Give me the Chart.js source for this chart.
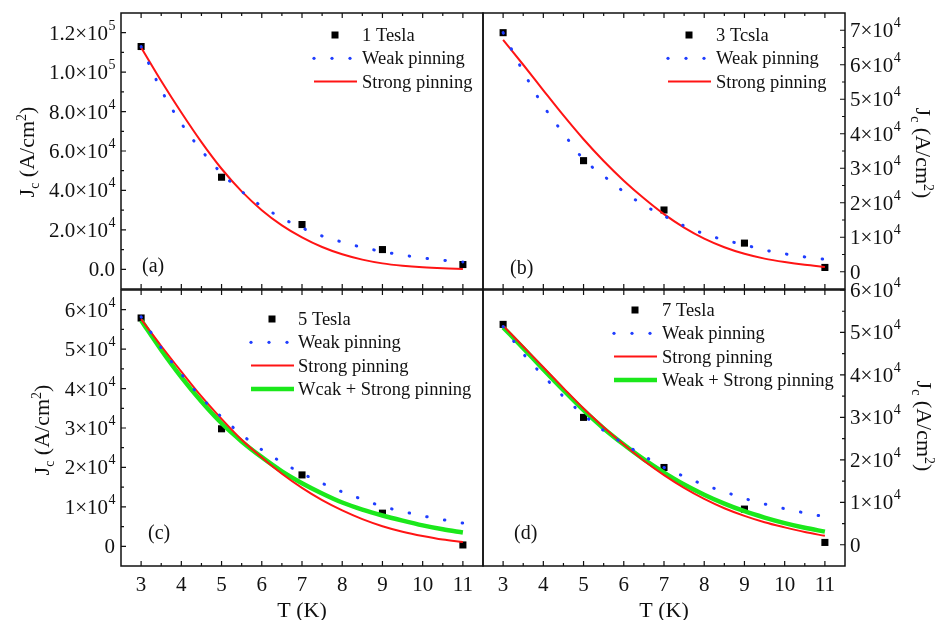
<!DOCTYPE html>
<html>
<head>
<meta charset="utf-8">
<script src="https://cdn.jsdelivr.net/npm/chart.js@4.4.1/dist/chart.umd.min.js"></script>
<style>
  body { margin: 0; background: #fff; }
  .wrap { position: relative; width: 938px; height: 620px; }
  .wrap canvas { position: absolute; left: 0; top: 0; }
</style>
</head>
<body>
<div class="wrap">
  <canvas id="chartA" width="938" height="620"></canvas>
  <canvas id="chartB" width="938" height="620"></canvas>
  <canvas id="chartC" width="938" height="620"></canvas>
  <canvas id="chartD" width="938" height="620"></canvas>
</div>
<script>
// temperatures (K)
const tMeas = [3, 5, 7, 9, 11];
const tFit = [3, 3.5, 4, 4.5, 5, 5.5, 6, 6.5, 7, 7.5, 8, 8.5, 9, 9.5, 10, 10.5, 11];
const xTicks = [3, 4, 5, 6, 7, 8, 9, 10, 11];

// (a) 1 Tesla
const jcA = [113000, 46700, 22700, 10000, 2400];
const weakA = [113000, 91000, 74000, 60300, 48700, 39500, 32000, 26000, 21000, 16900, 13800, 11100, 9000, 7200, 5800, 4600, 3700];
const strongA = [112500, 95500, 79500, 64500, 51000, 39500, 30000, 22300, 16200, 11300, 7600, 4900, 3000, 1800, 1000, 500, 200];

// (b) 3 Tesla
const jcB = [69300, 32200, 17900, 8300, 1250];
const weakB = [69300, 58000, 48100, 40100, 32600, 27800, 23200, 19300, 16200, 13300, 11000, 9200, 7800, 6300, 5200, 4300, 3600];
const strongB = [67200, 60000, 52600, 45300, 38400, 32100, 26400, 21300, 16700, 12800, 9600, 7100, 5200, 3800, 2800, 2000, 1400];

// (c) 5 Tesla
const jcC = [57900, 29800, 18100, 8400, 340];
const weakC = [58200, 50300, 43700, 37700, 32800, 28300, 24500, 21300, 18500, 16000, 13800, 11900, 10100, 8850, 7700, 6750, 5900];
const strongC = [57600, 50800, 44300, 38000, 32300, 27000, 22500, 18400, 14800, 11700, 9100, 6900, 5100, 3700, 2600, 1700, 1100];
const bothC = [57300, 49800, 42900, 36700, 31200, 26600, 22600, 19000, 16000, 13400, 11100, 9300, 7800, 6500, 5300, 4300, 3500];

// (d) 7 Tesla
const jcD = [51900, 30000, 18200, 8400, 550];
const weakD = [51400, 45000, 39800, 34900, 30600, 26900, 23800, 20900, 18200, 16100, 14100, 12500, 10900, 9600, 8500, 7500, 6600];
const strongD = [51600, 46700, 41800, 36900, 32100, 27700, 23600, 19800, 16400, 13400, 10800, 8600, 6800, 5300, 4100, 3000, 2100];
const bothD = [51200, 46300, 41300, 36400, 31700, 27400, 23600, 20100, 17000, 14200, 11800, 9700, 7900, 6400, 5100, 4000, 3100];

// y tick labels: mantissa and power of ten
const yTicksA = [0, 20000, 40000, 60000, 80000, 100000, 120000];
const yMantA = ['0.0', '2.0', '4.0', '6.0', '8.0', '1.0', '1.2'];
const yExpA = ['', '4', '4', '4', '4', '5', '5'];
const yTicksB = [0, 10000, 20000, 30000, 40000, 50000, 60000, 70000];
const yMantB = ['0', '1', '2', '3', '4', '5', '6', '7'];
const yExpB = ['', '4', '4', '4', '4', '4', '4', '4'];
const yTicksC = [0, 10000, 20000, 30000, 40000, 50000, 60000];
const yMantC = ['0', '1', '2', '3', '4', '5', '6'];
const yExpC = ['', '4', '4', '4', '4', '4', '4'];

const SERIF = '"Liberation Serif", "Times New Roman", serif';
const BLUE = '#1f3dff', RED = '#ff1414', GREEN = '#1be81b';

function pairs(xs, ys) {
  return xs.map((x, i) => ({ x: x, y: ys[i] }));
}

function drawRuns(ctx, runs) {
  // runs drawn centred on 0, baseline offset included
  let total = 0;
  runs.forEach(r => { ctx.font = r.size + 'px ' + SERIF; r.w = ctx.measureText(r.t).width; total += r.w; });
  let x = -total / 2;
  ctx.textAlign = 'left';
  ctx.textBaseline = 'alphabetic';
  runs.forEach(r => {
    ctx.font = r.size + 'px ' + SERIF;
    ctx.fillText(r.t, x, 7 + r.dy);
    x += r.w;
  });
}

function makeDeco(p) {
  return {
    id: 'deco' + p.id,
    afterDatasetsDraw(chart) {
      const ctx = chart.ctx;
      const a = chart.chartArea;
      const xs = chart.scales.x, ys = chart.scales.y;
      ctx.save();

      // frame
      ctx.strokeStyle = '#111';
      ctx.lineWidth = 1.5;
      ctx.strokeRect(a.left, a.top, a.right - a.left, a.bottom - a.top);

      // inward ticks
      ctx.lineWidth = 1.2;
      ctx.beginPath();
      xTicks.forEach(v => {
        const px = xs.getPixelForValue(v);
        ctx.moveTo(px, a.top); ctx.lineTo(px, a.top + 5);
        ctx.moveTo(px, a.bottom); ctx.lineTo(px, a.bottom - 5);
        const mx = xs.getPixelForValue(v + 0.5);
        if (v < 11) {
          ctx.moveTo(mx, a.top); ctx.lineTo(mx, a.top + 3);
          ctx.moveTo(mx, a.bottom); ctx.lineTo(mx, a.bottom - 3);
        }
      });
      const edge = p.side === 'left' ? a.left : a.right;
      const dir = p.side === 'left' ? 1 : -1;
      const step = p.yTicks[1] - p.yTicks[0];
      p.yTicks.forEach(v => {
        const py = ys.getPixelForValue(v);
        ctx.moveTo(edge, py); ctx.lineTo(edge + dir * 5, py);
        const my = ys.getPixelForValue(v + step / 2);
        if (my > a.top + 1) { ctx.moveTo(edge, my); ctx.lineTo(edge + dir * 3, my); }
      });
      ctx.stroke();

      // y tick labels with powers of ten
      ctx.fillStyle = '#111';
      ctx.textBaseline = 'alphabetic';
      p.yTicks.forEach((v, i) => {
        const py = ys.getPixelForValue(v);
        const main = p.yExp[i] ? p.yMant[i] + '\u00d710' : p.yMant[i];
        const sup = p.yExp[i];
        ctx.font = '14px ' + SERIF;
        const supW = sup ? ctx.measureText(sup).width : 0;
        ctx.font = '21px ' + SERIF;
        const mainW = ctx.measureText(main).width;
        let x0 = p.side === 'left' ? a.left - 6 - supW - mainW : a.right + 5;
        ctx.textAlign = 'left';
        ctx.fillText(main, x0, py + 7);
        if (sup) {
          ctx.font = '14px ' + SERIF;
          ctx.fillText(sup, x0 + mainW + 0.5, py - 3);
        }
      });

      // y axis title J_c (A/cm^2)
      ctx.save();
      ctx.translate(p.titleX, p.titleY);
      ctx.rotate(p.side === 'left' ? -Math.PI / 2 : Math.PI / 2);
      drawRuns(ctx, [
        { t: 'J', size: 22, dy: 0 },
        { t: 'c', size: 14, dy: 5 },
        { t: ' (A/cm', size: 22, dy: 0 },
        { t: '2', size: 14, dy: -8 },
        { t: ')', size: 22, dy: 0 }
      ]);
      ctx.restore();

      // x labels only on lower panels
      if (p.showX) {
        ctx.font = '21px ' + SERIF;
        ctx.textAlign = 'center';
        xTicks.forEach(v => {
          ctx.fillText(String(v), xs.getPixelForValue(v), 591);
        });
        ctx.font = '22px ' + SERIF;
        ctx.fillText('T (K)', (a.left + a.right) / 2, 617);
      }

      // panel tag
      ctx.font = '20px ' + SERIF;
      ctx.textAlign = 'left';
      ctx.fillText(p.tag, p.tagX, p.tagY);

      // legend
      const ds = chart.data.datasets;
      const rowH = 23.3;
      ds.forEach((d, i) => {
        const y = p.legY + i * rowH;
        if (i === 0) {
          ctx.fillStyle = '#000';
          ctx.fillRect(p.legX + 21 - 3.5, y - 3.5, 7, 7);
        } else if (d.borderDash) {
          ctx.fillStyle = d.borderColor;
          [0, 18, 36].forEach(dx => {
            ctx.beginPath();
            ctx.arc(p.legX + dx, y, 1.6, 0, Math.PI * 2);
            ctx.fill();
          });
        } else {
          ctx.strokeStyle = d.borderColor;
          ctx.lineWidth = d.borderWidth;
          ctx.beginPath();
          ctx.moveTo(p.legX, y); ctx.lineTo(p.legX + 43, y);
          ctx.stroke();
        }
        ctx.fillStyle = '#111';
        ctx.font = '18.5px ' + SERIF;
        ctx.fillText(d.label, p.legTextX, y + 6);
      });

      ctx.restore();
    }
  };
}

const panels = [
  { id: 'chartA', left: 121, right: 483, top: 13, bottom: 289, yMin: -10000, yMax: 130000, side: 'left',
    yTicks: yTicksA, yMant: yMantA, yExp: yExpA, titleX: 27, titleY: 152, showX: false,
    tag: '(a)', tagX: 142, tagY: 272, legX: 314, legY: 35, legTextX: 362,
    names: ['1 Tesla', 'Weak pinning', 'Strong pinning'], jc: jcA, weak: weakA, strong: strongA, both: null },
  { id: 'chartB', left: 483, right: 845, top: 13, bottom: 289, yMin: -5000, yMax: 75000, side: 'right',
    yTicks: yTicksB, yMant: yMantB, yExp: yExpB, titleX: 923, titleY: 153, showX: false,
    tag: '(b)', tagX: 510, tagY: 274, legX: 668, legY: 35, legTextX: 716,
    names: ['3 Tcsla', 'Weak pinning', 'Strong pinning'], jc: jcB, weak: weakB, strong: strongB, both: null },
  { id: 'chartC', left: 121, right: 483, top: 290, bottom: 566, yMin: -5000, yMax: 65000, side: 'left',
    yTicks: yTicksC, yMant: yMantC, yExp: yExpC, titleX: 42, titleY: 430, showX: true,
    tag: '(c)', tagX: 148, tagY: 539, legX: 251, legY: 319, legTextX: 298,
    names: ['5 Tesla', 'Weak pinning', 'Strong pinning', 'Wcak + Strong pinning'], jc: jcC, weak: weakC, strong: strongC, both: bothC },
  { id: 'chartD', left: 483, right: 845, top: 290, bottom: 566, yMin: -5000, yMax: 60000, side: 'right',
    yTicks: yTicksC, yMant: yMantC, yExp: yExpC, titleX: 924, titleY: 426, showX: true,
    tag: '(d)', tagX: 514, tagY: 539, legX: 614, legY: 310, legTextX: 662,
    names: ['7 Tesla', 'Weak pinning', 'Strong pinning', 'Weak + Strong pinning'], jc: jcD, weak: weakD, strong: strongD, both: bothD }
];

panels.forEach(p => {
  const datasets = [
    { label: p.names[0], data: pairs(tMeas, p.jc), showLine: false, pointStyle: 'rect',
      pointRadius: 5, backgroundColor: '#000', borderColor: '#000', borderWidth: 0, order: 5 },
    { label: p.names[1], data: pairs(tFit, p.weak), borderColor: BLUE, borderWidth: 3,
      borderDash: [0.5, 17.5], borderCapStyle: 'round', pointRadius: 0, order: 1 },
    { label: p.names[2], data: pairs(tFit, p.strong), borderColor: RED, borderWidth: 2,
      pointRadius: 0, order: 2 }
  ];
  if (p.both) {
    datasets.push({ label: p.names[3], data: pairs(tFit, p.both), borderColor: GREEN, borderWidth: 4.5,
      pointRadius: 0, order: 3 });
  }
  new Chart(document.getElementById(p.id), {
    type: 'line',
    data: { datasets: datasets },
    options: {
      responsive: false,
      animation: false,
      devicePixelRatio: 1,
      layout: { padding: { left: p.left, right: 938 - p.right, top: p.top, bottom: 620 - p.bottom } },
      elements: { line: { cubicInterpolationMode: 'monotone', fill: false } },
      plugins: { legend: { display: false }, tooltip: { enabled: false } },
      scales: {
        x: { type: 'linear', min: 2.5, max: 11.5, display: false },
        y: { type: 'linear', min: p.yMin, max: p.yMax, display: false }
      }
    },
    plugins: [makeDeco(p)]
  });
});
</script>
</body>
</html>
